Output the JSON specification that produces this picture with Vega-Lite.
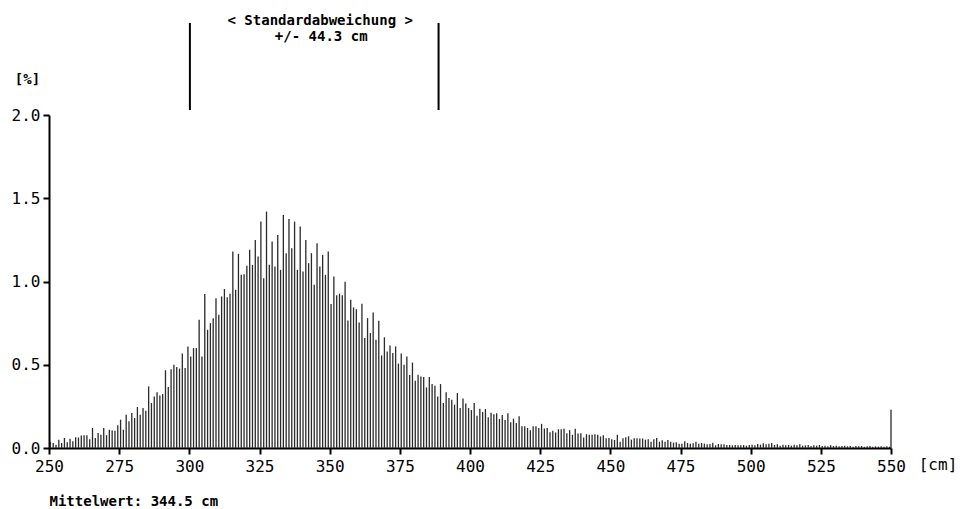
{
  "$schema": "https://vega.github.io/schema/vega-lite/v6.json",
  "width": 842,
  "height": 333,
  "autosize": "none",
  "padding": {"left": 49, "top": 115, "right": 77, "bottom": 61},
  "background": "white",
  "config": {
    "view": {"stroke": null},
    "axis": {
      "domainColor": "black", "domainWidth": 2, "tickColor": "black", "tickWidth": 2, "tickSize": 6,
      "labelFont": "DejaVu Sans Mono", "labelFontSize": 16, "labelColor": "black", "grid": false, "labelFlush": false,
      "titleFont": "DejaVu Sans Mono", "titleFontWeight": "bold", "titleColor": "black", "titleFontSize": 14
    },
    "text": {"font": "DejaVu Sans Mono", "fontWeight": "bold", "fontSize": 14, "color": "black"}
  },
  "datasets": {
    "hist": [
      {"cm":250.5,"pct":0.038},{"cm":251.5,"pct":0.03},{"cm":252.5,"pct":0.02},{"cm":253.5,"pct":0.05},{"cm":254.5,"pct":0.03},
      {"cm":255.5,"pct":0.06},{"cm":256.5,"pct":0.035},{"cm":257.5,"pct":0.055},{"cm":258.5,"pct":0.04},{"cm":259.5,"pct":0.065},
      {"cm":260.5,"pct":0.063},{"cm":261.5,"pct":0.075},{"cm":262.5,"pct":0.077},{"cm":263.5,"pct":0.077},{"cm":264.5,"pct":0.053},
      {"cm":265.5,"pct":0.12},{"cm":266.5,"pct":0.06},{"cm":267.5,"pct":0.09},{"cm":268.5,"pct":0.08},{"cm":269.5,"pct":0.12},
      {"cm":270.5,"pct":0.077},{"cm":271.5,"pct":0.11},{"cm":272.5,"pct":0.105},{"cm":273.5,"pct":0.103},{"cm":274.5,"pct":0.137},
      {"cm":275.5,"pct":0.17},{"cm":276.5,"pct":0.11},{"cm":277.5,"pct":0.2},{"cm":278.5,"pct":0.16},{"cm":279.5,"pct":0.21},
      {"cm":280.5,"pct":0.18},{"cm":281.5,"pct":0.246},{"cm":282.5,"pct":0.2},{"cm":283.5,"pct":0.24},{"cm":284.5,"pct":0.224},
      {"cm":285.5,"pct":0.37},{"cm":286.5,"pct":0.27},{"cm":287.5,"pct":0.31},{"cm":288.5,"pct":0.335},{"cm":289.5,"pct":0.315},
      {"cm":290.5,"pct":0.325},{"cm":291.5,"pct":0.467},{"cm":292.5,"pct":0.366},{"cm":293.5,"pct":0.473},{"cm":294.5,"pct":0.5},
      {"cm":295.5,"pct":0.487},{"cm":296.5,"pct":0.477},{"cm":297.5,"pct":0.568},{"cm":298.5,"pct":0.48},{"cm":299.5,"pct":0.61},
      {"cm":300.5,"pct":0.55},{"cm":301.5,"pct":0.6},{"cm":302.5,"pct":0.6},{"cm":303.5,"pct":0.77},{"cm":304.5,"pct":0.55},
      {"cm":305.5,"pct":0.925},{"cm":306.5,"pct":0.71},{"cm":307.5,"pct":0.75},{"cm":308.5,"pct":0.78},{"cm":309.5,"pct":0.9},
      {"cm":310.5,"pct":0.8},{"cm":311.5,"pct":0.91},{"cm":312.5,"pct":0.955},{"cm":313.5,"pct":0.905},{"cm":314.5,"pct":0.927},
      {"cm":315.5,"pct":1.18},{"cm":316.5,"pct":0.95},{"cm":317.5,"pct":1.166},{"cm":318.5,"pct":1.04},{"cm":319.5,"pct":1.044},
      {"cm":320.5,"pct":1.095},{"cm":321.5,"pct":1.19},{"cm":322.5,"pct":1.1},{"cm":323.5,"pct":1.25},{"cm":324.5,"pct":1.15},
      {"cm":325.5,"pct":1.36},{"cm":326.5,"pct":1.02},{"cm":327.5,"pct":1.42},{"cm":328.5,"pct":1.1},{"cm":329.5,"pct":1.24},
      {"cm":330.5,"pct":1.09},{"cm":331.5,"pct":1.28},{"cm":332.5,"pct":1.07},{"cm":333.5,"pct":1.4},{"cm":334.5,"pct":1.17},
      {"cm":335.5,"pct":1.375},{"cm":336.5,"pct":1.2},{"cm":337.5,"pct":1.36},{"cm":338.5,"pct":1.07},{"cm":339.5,"pct":1.33},
      {"cm":340.5,"pct":1.06},{"cm":341.5,"pct":1.25},{"cm":342.5,"pct":1.11},{"cm":343.5,"pct":1.17},{"cm":344.5,"pct":0.98},
      {"cm":345.5,"pct":1.23},{"cm":346.5,"pct":1.09},{"cm":347.5,"pct":1.16},{"cm":348.5,"pct":1.04},{"cm":349.5,"pct":1.18},
      {"cm":350.5,"pct":0.865},{"cm":351.5,"pct":1.03},{"cm":352.5,"pct":0.917},{"cm":353.5,"pct":0.927},{"cm":354.5,"pct":0.917},
      {"cm":355.5,"pct":0.998},{"cm":356.5,"pct":0.766},{"cm":357.5,"pct":0.89},{"cm":358.5,"pct":0.844},{"cm":359.5,"pct":0.834},
      {"cm":360.5,"pct":0.754},{"cm":361.5,"pct":0.867},{"cm":362.5,"pct":0.66},{"cm":363.5,"pct":0.78},{"cm":364.5,"pct":0.69},
      {"cm":365.5,"pct":0.814},{"cm":366.5,"pct":0.65},{"cm":367.5,"pct":0.764},{"cm":368.5,"pct":0.556},{"cm":369.5,"pct":0.665},
      {"cm":370.5,"pct":0.58},{"cm":371.5,"pct":0.616},{"cm":372.5,"pct":0.57},{"cm":373.5,"pct":0.61},{"cm":374.5,"pct":0.507},
      {"cm":375.5,"pct":0.568},{"cm":376.5,"pct":0.5},{"cm":377.5,"pct":0.55},{"cm":378.5,"pct":0.438},{"cm":379.5,"pct":0.513},
      {"cm":380.5,"pct":0.404},{"cm":381.5,"pct":0.44},{"cm":382.5,"pct":0.43},{"cm":383.5,"pct":0.426},{"cm":384.5,"pct":0.364},
      {"cm":385.5,"pct":0.426},{"cm":386.5,"pct":0.384},{"cm":387.5,"pct":0.374},{"cm":388.5,"pct":0.31},{"cm":389.5,"pct":0.384},
      {"cm":390.5,"pct":0.27},{"cm":391.5,"pct":0.335},{"cm":392.5,"pct":0.3},{"cm":393.5,"pct":0.29},{"cm":394.5,"pct":0.26},
      {"cm":395.5,"pct":0.33},{"cm":396.5,"pct":0.24},{"cm":397.5,"pct":0.297},{"cm":398.5,"pct":0.268},{"cm":399.5,"pct":0.24},
      {"cm":400.5,"pct":0.228},{"cm":401.5,"pct":0.27},{"cm":402.5,"pct":0.194},{"cm":403.5,"pct":0.236},{"cm":404.5,"pct":0.216},
      {"cm":405.5,"pct":0.234},{"cm":406.5,"pct":0.184},{"cm":407.5,"pct":0.212},{"cm":408.5,"pct":0.202},{"cm":409.5,"pct":0.208},
      {"cm":410.5,"pct":0.174},{"cm":411.5,"pct":0.198},{"cm":412.5,"pct":0.168},{"cm":413.5,"pct":0.208},{"cm":414.5,"pct":0.154},
      {"cm":415.5,"pct":0.176},{"cm":416.5,"pct":0.15},{"cm":417.5,"pct":0.19},{"cm":418.5,"pct":0.131},{"cm":419.5,"pct":0.131},
      {"cm":420.5,"pct":0.12},{"cm":421.5,"pct":0.107},{"cm":422.5,"pct":0.131},{"cm":423.5,"pct":0.131},{"cm":424.5,"pct":0.12},
      {"cm":425.5,"pct":0.145},{"cm":426.5,"pct":0.117},{"cm":427.5,"pct":0.12},{"cm":428.5,"pct":0.095},{"cm":429.5,"pct":0.103},
      {"cm":430.5,"pct":0.093},{"cm":431.5,"pct":0.113},{"cm":432.5,"pct":0.113},{"cm":433.5,"pct":0.115},{"cm":434.5,"pct":0.089},
      {"cm":435.5,"pct":0.107},{"cm":436.5,"pct":0.079},{"cm":437.5,"pct":0.115},{"cm":438.5,"pct":0.087},{"cm":439.5,"pct":0.089},
      {"cm":440.5,"pct":0.063},{"cm":441.5,"pct":0.083},{"cm":442.5,"pct":0.079},{"cm":443.5,"pct":0.079},{"cm":444.5,"pct":0.083},
      {"cm":445.5,"pct":0.079},{"cm":446.5,"pct":0.069},{"cm":447.5,"pct":0.077},{"cm":448.5,"pct":0.058},{"cm":449.5,"pct":0.06},
      {"cm":450.5,"pct":0.053},{"cm":451.5,"pct":0.048},{"cm":452.5,"pct":0.08},{"cm":453.5,"pct":0.038},{"cm":454.5,"pct":0.058},
      {"cm":455.5,"pct":0.065},{"cm":456.5,"pct":0.07},{"cm":457.5,"pct":0.05},{"cm":458.5,"pct":0.058},{"cm":459.5,"pct":0.058},
      {"cm":460.5,"pct":0.057},{"cm":461.5,"pct":0.057},{"cm":462.5,"pct":0.05},{"cm":463.5,"pct":0.053},{"cm":464.5,"pct":0.038},
      {"cm":465.5,"pct":0.053},{"cm":466.5,"pct":0.06},{"cm":467.5,"pct":0.038},{"cm":468.5,"pct":0.046},{"cm":469.5,"pct":0.038},
      {"cm":470.5,"pct":0.048},{"cm":471.5,"pct":0.038},{"cm":472.5,"pct":0.032},{"cm":473.5,"pct":0.034},{"cm":474.5,"pct":0.026},
      {"cm":475.5,"pct":0.026},{"cm":476.5,"pct":0.04},{"cm":477.5,"pct":0.03},{"cm":478.5,"pct":0.026},{"cm":479.5,"pct":0.028},
      {"cm":480.5,"pct":0.038},{"cm":481.5,"pct":0.026},{"cm":482.5,"pct":0.03},{"cm":483.5,"pct":0.026},{"cm":484.5,"pct":0.022},
      {"cm":485.5,"pct":0.024},{"cm":486.5,"pct":0.032},{"cm":487.5,"pct":0.016},{"cm":488.5,"pct":0.024},{"cm":489.5,"pct":0.022},
      {"cm":490.5,"pct":0.022},{"cm":491.5,"pct":0.018},{"cm":492.5,"pct":0.018},{"cm":493.5,"pct":0.016},{"cm":494.5,"pct":0.018},
      {"cm":495.5,"pct":0.016},{"cm":496.5,"pct":0.016},{"cm":497.5,"pct":0.018},{"cm":498.5,"pct":0.014},{"cm":499.5,"pct":0.018},
      {"cm":500.5,"pct":0.02},{"cm":501.5,"pct":0.016},{"cm":502.5,"pct":0.024},{"cm":503.5,"pct":0.02},{"cm":504.5,"pct":0.028},
      {"cm":505.5,"pct":0.022},{"cm":506.5,"pct":0.026},{"cm":507.5,"pct":0.03},{"cm":508.5,"pct":0.018},{"cm":509.5,"pct":0.022},
      {"cm":510.5,"pct":0.014},{"cm":511.5,"pct":0.02},{"cm":512.5,"pct":0.016},{"cm":513.5,"pct":0.018},{"cm":514.5,"pct":0.014},
      {"cm":515.5,"pct":0.02},{"cm":516.5,"pct":0.016},{"cm":517.5,"pct":0.022},{"cm":518.5,"pct":0.014},{"cm":519.5,"pct":0.016},
      {"cm":520.5,"pct":0.018},{"cm":521.5,"pct":0.012},{"cm":522.5,"pct":0.016},{"cm":523.5,"pct":0.014},{"cm":524.5,"pct":0.018},
      {"cm":525.5,"pct":0.012},{"cm":526.5,"pct":0.014},{"cm":527.5,"pct":0.01},{"cm":528.5,"pct":0.016},{"cm":529.5,"pct":0.012},
      {"cm":530.5,"pct":0.014},{"cm":531.5,"pct":0.01},{"cm":532.5,"pct":0.012},{"cm":533.5,"pct":0.014},{"cm":534.5,"pct":0.01},
      {"cm":535.5,"pct":0.012},{"cm":536.5,"pct":0.008},{"cm":537.5,"pct":0.012},{"cm":538.5,"pct":0.01},{"cm":539.5,"pct":0.012},
      {"cm":540.5,"pct":0.008},{"cm":541.5,"pct":0.01},{"cm":542.5,"pct":0.012},{"cm":543.5,"pct":0.008},{"cm":544.5,"pct":0.01},
      {"cm":545.5,"pct":0.008},{"cm":546.5,"pct":0.01},{"cm":547.5,"pct":0.008},{"cm":548.5,"pct":0.01},{"cm":549.5,"pct":0.008},
      {"cm":550,"pct":0.23}
    ],
    "sd": [{"cm": 300.2}, {"cm": 388.8}],
    "notes": [{"mean": 344.5}]
  },
  "layer": [
    {
      "data": {"name": "hist"},
      "mark": {"type": "rule", "strokeWidth": 1.3, "color": "#2a2a2a"},
      "encoding": {
        "x": {
          "field": "cm", "type": "quantitative",
          "scale": {"domain": [250, 550], "nice": false, "zero": false},
          "axis": {
            "values": [250, 275, 300, 325, 350, 375, 400, 425, 450, 475, 500, 525, 550],
            "format": "d", "labelPadding": 4,
            "title": "Mittelwert: 344.5 cm", "titleAnchor": "start", "titleAlign": "left",
            "titleBaseline": "middle", "titleY": 53, "titleX": 0
          }
        },
        "y": {
          "field": "pct", "type": "quantitative",
          "scale": {"domain": [0, 2], "nice": false},
          "axis": {
            "values": [0, 0.5, 1, 1.5, 2], "format": ".1f", "labelPadding": 3,
            "title": "[%]", "titleAngle": 0, "titleAlign": "center", "titleBaseline": "middle",
            "titleX": -22, "titleY": -36
          }
        },
        "y2": {"datum": 0}
      }
    },
    {
      "data": {"name": "sd"},
      "mark": {"type": "rule", "strokeWidth": 2, "color": "black"},
      "encoding": {
        "x": {"field": "cm", "type": "quantitative"},
        "y": {"datum": 2.03},
        "y2": {"datum": 2.553}
      }
    },
    {
      "data": {"name": "notes"},
      "mark": {"type": "text", "text": "< Standardabweichung >", "align": "center", "baseline": "middle", "dx": 6},
      "encoding": {"x": {"field": "mean", "type": "quantitative"}, "y": {"datum": 2.565}}
    },
    {
      "data": {"name": "notes"},
      "mark": {"type": "text", "text": "+/- 44.3 cm", "align": "center", "baseline": "middle", "dx": 7},
      "encoding": {"x": {"field": "mean", "type": "quantitative"}, "y": {"datum": 2.468}}
    },
    {
      "data": {"name": "notes"},
      "mark": {"type": "text", "text": "[cm]", "align": "center", "baseline": "middle", "dx": 47, "dy": 17, "fontWeight": "normal", "fontSize": 16},
      "encoding": {"x": {"datum": 550}, "y": {"datum": 0}}
    }
  ]
}
